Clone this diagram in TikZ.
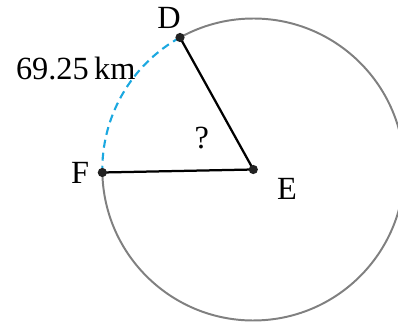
\documentclass[tikz,border=0pt]{standalone}
\usepackage{fontspec}
\setmainfont{Liberation Serif}
\usepackage{tikz}
\usetikzlibrary{positioning, backgrounds}
\definecolor{rimgray}{HTML}{808080}
\definecolor{arcblue}{HTML}{1BA8E0}
\definecolor{dotdark}{HTML}{222222}

\begin{document}
\begin{tikzpicture}[
    every node/.style={font=\fontsize{23}{27}\selectfont},
    rim/.style={draw=rimgray, line width=1.4pt},
    radius line/.style={draw=black, line width=1.6pt},
    arcdash/.style={draw=arcblue, line width=1.5pt, dash pattern=on 5.7pt off 3.6pt},
    pt/.style={circle, fill=dotdark, inner sep=0pt, minimum size=0.23cm},
    lbl/.style={inner sep=0pt}
]
\useasboundingbox (-6.3325,-3.8125) rectangle (3.6175,4.2375);

% Points on the circle
\node[pt] (E) at (0,0) {};
\node[pt] (D) at (119.04:3.775) {};
\node[pt] (F) at (181.14:3.775) {};

% Circle, arc and radii behind the points
\begin{scope}[on background layer]
\draw[rim] (F.center) arc[start angle=181.14, end angle=479.04, radius=3.775];
\draw[arcdash] (D.center) arc[start angle=119.04, end angle=181.14, radius=3.775];
\draw[radius line] (D.center) -- (E.center);
\draw[radius line] (F.center) -- (E.center);
\end{scope}

% Labels
\node[lbl] (Dlab) at (-2.1075,3.78) {D};
\node[lbl] (Flab) at (-4.3325,-0.075) {F};
\node[lbl] (Elab) at (0.8425,-0.475) {E};
\node[lbl] (ang) at (-1.29,0.78) {?};
\node[lbl] (arclen) at (-4.4375,2.5125) {69.25\,km};
\end{tikzpicture}
\end{document}
